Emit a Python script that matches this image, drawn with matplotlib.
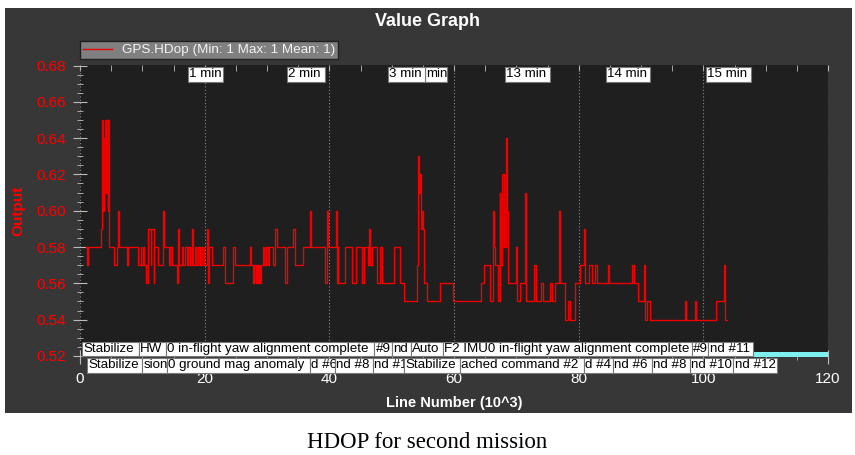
import matplotlib
matplotlib.use("Agg")
import matplotlib.pyplot as plt
from matplotlib.patches import Rectangle
from matplotlib.ticker import MultipleLocator
from matplotlib.transforms import blended_transform_factory

plt.rcParams['font.family'] = ['Liberation Sans', 'DejaVu Sans']

# GPS.HDop steps: line number (10^3) where each value starts
hdop_x = [0.96, 1.05, 1.35, 3.40, 3.50, 3.60, 3.70, 3.80, 3.95, 4.15, 4.25, 4.45, 4.55, 4.65,
          5.50, 6.00, 6.15, 6.30, 7.50, 7.75, 9.35, 9.75, 9.85, 10.15, 10.30, 10.55, 10.95,
          11.35, 11.45, 11.80, 11.95, 12.55, 13.30, 13.50, 14.20, 14.45, 14.70, 15.60, 15.75,
          15.90, 16.30, 16.50, 16.80, 17.10, 17.40, 17.70, 17.95, 18.10, 18.40, 18.60, 19.00,
          19.20, 19.50, 19.90, 20.35, 20.50, 20.75, 21.10, 22.90, 23.30, 24.60, 24.80, 27.30,
          27.50, 27.80, 27.95, 28.20, 28.35, 28.55, 28.70, 28.90, 29.10, 29.40, 29.55, 29.80,
          30.10, 30.30, 31.00, 31.30, 31.55, 32.90, 33.20, 34.20, 34.45, 35.80, 36.85, 37.00,
          39.30, 39.60, 39.70, 39.85, 41.05, 41.20, 41.35, 41.45, 42.50, 43.70, 44.30, 45.20,
          45.60, 46.20, 46.30, 46.45, 46.80, 47.60, 48.10, 48.40, 50.30, 51.30, 51.90, 54.10,
          54.20, 54.40, 54.55, 54.65, 54.80, 55.00, 55.20, 55.60, 57.70, 59.90, 64.30, 64.80,
          65.80, 66.20, 66.30, 66.45, 66.60, 67.00, 67.30, 67.40, 67.70, 68.00, 68.30, 68.45,
          68.55, 68.70, 69.95, 70.10, 70.60, 71.40, 71.55, 72.80, 73.20, 73.90, 74.30, 75.40,
          75.70, 76.20, 76.85, 77.00, 77.80, 78.30, 78.60, 79.40, 80.20, 80.80, 80.95, 81.60,
          82.20, 82.70, 83.00, 84.70, 84.80, 88.60, 88.90, 89.50, 90.50, 90.60, 90.90, 91.40,
          97.05, 97.15, 98.60, 98.80, 102.10, 103.30, 103.40, 103.80]
hdop_y = [0.58, 0.57, 0.58, 0.59, 0.62, 0.65, 0.60, 0.64, 0.65, 0.61, 0.65, 0.60, 0.65, 0.58,
          0.57, 0.58, 0.60, 0.58, 0.57, 0.58, 0.57, 0.58, 0.57, 0.58, 0.57, 0.56, 0.59,
          0.57, 0.59, 0.56, 0.58, 0.57, 0.60, 0.58, 0.57, 0.58, 0.57, 0.56, 0.59,
          0.57, 0.58, 0.57, 0.58, 0.57, 0.58, 0.57, 0.59, 0.57, 0.58, 0.57, 0.58,
          0.57, 0.58, 0.57, 0.59, 0.56, 0.58, 0.57, 0.58, 0.56, 0.58, 0.57, 0.58,
          0.57, 0.56, 0.57, 0.56, 0.57, 0.56, 0.57, 0.56, 0.57, 0.58, 0.57, 0.58,
          0.57, 0.58, 0.57, 0.59, 0.58, 0.56, 0.58, 0.59, 0.57, 0.58, 0.60, 0.58,
          0.56, 0.58, 0.60, 0.58, 0.60, 0.56, 0.58, 0.56, 0.58, 0.56, 0.58, 0.56,
          0.58, 0.57, 0.59, 0.57, 0.58, 0.56, 0.58, 0.56, 0.58, 0.56, 0.55, 0.57,
          0.63, 0.61, 0.62, 0.59, 0.60, 0.59, 0.56, 0.55, 0.56, 0.55, 0.56, 0.57,
          0.55, 0.57, 0.60, 0.58, 0.57, 0.55, 0.61, 0.57, 0.62, 0.58, 0.64, 0.62,
          0.60, 0.56, 0.58, 0.55, 0.56, 0.61, 0.55, 0.57, 0.55, 0.56, 0.55, 0.56,
          0.55, 0.56, 0.60, 0.56, 0.54, 0.55, 0.54, 0.56, 0.57, 0.59, 0.56, 0.57,
          0.56, 0.57, 0.56, 0.57, 0.56, 0.57, 0.56, 0.55, 0.57, 0.54, 0.55, 0.54,
          0.55, 0.54, 0.55, 0.54, 0.55, 0.57, 0.54, 0.54]

# minute markers along the top
time_text = ['1 min', '2 min', 'min', '3 min', '13 min', '14 min', '15 min']
time_left = [17.33, 33.2, 55.35, 49.4, 68.2, 84.4, 100.4]
time_right = [22.94, 39.3, 58.9, 55.35, 75.4, 91.45, 107.65]

# mode / message markers along the bottom (two rows)
row1_text = ['Stabilize', 'HW', '0 in-flight yaw alignment complete', '#9', 'nd', 'Auto',
             'F2 IMU0 in-flight yaw alignment complete', '#9', 'nd #11']
row1_left = [0.32, 9.47, 13.8, 47.2, 50.1, 53.1, 58.2, 98.2, 100.8]
row1_end = 108.0
row2_text = ['Stabilize', 'sion', '0 ground mag anomaly', 'd #6', 'nd #8', 'nd #1', 'Stabilize',
             'ached command #2', 'd #4', 'nd #6', 'nd #8', 'nd #10', 'nd #12']
row2_left = [1.1, 9.95, 13.9, 36.9, 40.9, 47.0, 52.0, 61.0, 80.8, 85.5, 91.8, 97.9, 104.8]
row2_end = 111.8

W, H = 855, 455
fig = plt.figure(figsize=(W / 100, H / 100), dpi=100, facecolor='white')
fig.patches.append(Rectangle((5 / W, 1 - 413 / H), 847 / W, 405 / H, transform=fig.transFigure,
                             facecolor='#373737', edgecolor='none', zorder=-10))

ax = fig.add_axes([80 / W, 1 - 357 / H, 748 / W, 291.5 / H])
ax.set_facecolor('#1f1f1f')
for s in ax.spines.values():
    s.set_visible(False)

ax.step(hdop_x, hdop_y, where='post', color='#f00000', lw=1.0, zorder=3,
        label='GPS.HDop (Min: 1 Max: 1 Mean: 1)')

ax.set_xlim(0, 120)
ax.set_ylim(0.5194, 0.68)
ax.xaxis.set_major_locator(MultipleLocator(20))
ax.xaxis.set_minor_locator(MultipleLocator(5))
ax.yaxis.set_major_locator(MultipleLocator(0.02))
ax.yaxis.set_minor_locator(MultipleLocator(0.005))
ax.yaxis.set_major_formatter(matplotlib.ticker.FormatStrFormatter('%.2f'))
ax.tick_params(axis='y', which='major', direction='inout', length=10, color='#bbbbbb',
               labelcolor='#ff0000', labelsize=11, pad=5)
ax.tick_params(axis='y', which='minor', direction='inout', length=4, color='#bbbbbb')
ax.tick_params(axis='x', which='major', direction='inout', length=10, color='#bbbbbb',
               labelcolor='white', labelsize=11, pad=6)
ax.tick_params(axis='x', which='minor', direction='inout', length=4, color='#bbbbbb')
top = ax.secondary_xaxis('top')
top.xaxis.set_major_locator(MultipleLocator(20))
top.xaxis.set_minor_locator(MultipleLocator(5))
top.tick_params(which='both', direction='in', length=4, color='#bbbbbb', labeltop=False)
for s in top.spines.values():
    s.set_visible(False)

ax.grid(axis='x', which='major', color='#8a8a8a', linestyle=(0, (1, 2)), lw=0.8)

ax.set_ylabel('Output', color='#ff0000', fontsize=11, fontweight='bold', labelpad=8)
ax.set_xlabel('Line Number (10^3)', color='white', fontsize=10.5, fontweight='bold', labelpad=7)

fig.text(0.5, 1 - 21 / H, 'Value Graph', color='white', fontsize=13, fontweight='bold',
         ha='center', va='center')
fig.text(0.5, 1 - 442 / H, 'HDOP for second mission', color='black', fontsize=16.5,
         family='Liberation Serif', ha='center', va='center')

leg = ax.legend(loc='lower left', bbox_to_anchor=(0, 1.0223), borderaxespad=0, fontsize=9.7,
                frameon=True, fancybox=False, framealpha=1, borderpad=0.2,
                handlelength=2.2, handletextpad=0.7)
leg.get_frame().set_facecolor('#808080')
leg.get_frame().set_edgecolor('#202020')
for t in leg.get_texts():
    t.set_color('#f2f2f2')

tr = blended_transform_factory(ax.transData, ax.transAxes)

# cyan event strip at the bottom right
ax.add_patch(Rectangle((108, 0.001), 12, 0.017, transform=tr, facecolor='#7ff0f0',
                       edgecolor='none', zorder=4, clip_on=False))


def box_label(x0, x1, y0, y1, text, z):
    ax.add_patch(Rectangle((x0, y0), x1 - x0, y1 - y0, transform=tr, facecolor='white',
                           edgecolor='#777777', lw=0.8, zorder=z, clip_on=False))
    ax.text(x0 + 0.2, (y0 + y1) / 2, text, transform=tr, fontsize=9.6, color='black',
            ha='left', va='center', zorder=z + 0.5, clip_on=False)


z = 10
for txt, l, r in zip(time_text, time_left, time_right):
    box_label(l, r, 0.9424, 0.9959, txt, z)
    z += 1

for i, txt in enumerate(row1_text):
    r = row1_left[i + 1] if i + 1 < len(row1_left) else row1_end
    box_label(row1_left[i], r, 0.0034, 0.0525, txt, z)
    z += 1

for i, txt in enumerate(row2_text):
    r = row2_left[i + 1] if i + 1 < len(row2_left) else row2_end
    box_label(row2_left[i], r, -0.0539, -0.0034, txt, z)
    z += 1

fig.savefig('out.png', dpi=100, facecolor=fig.get_facecolor())
